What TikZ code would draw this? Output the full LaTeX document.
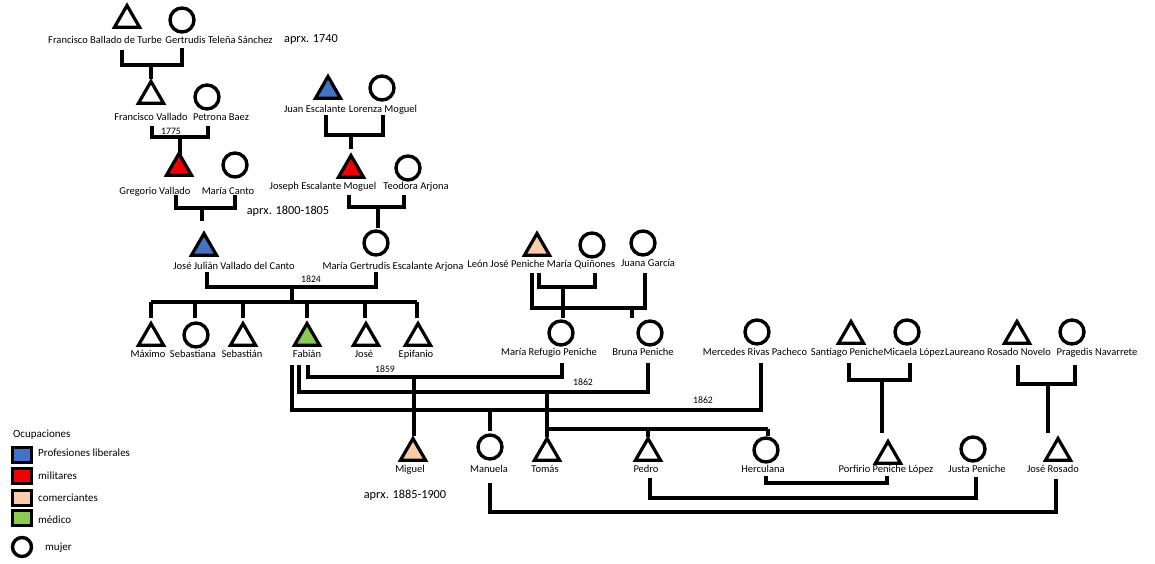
\documentclass[tikz,border=0pt]{standalone}
\usepackage{fontspec}
\setmainfont{Carlito}
\usetikzlibrary{shapes.geometric}
\definecolor{cblue}{HTML}{4472C4}
\definecolor{cred}{HTML}{F00000}
\definecolor{cpeach}{HTML}{F8CBAD}
\definecolor{cgreen}{HTML}{8CCB52}
\tikzset{
  tri/.style={regular polygon, regular polygon sides=3, draw, line width=3.2pt, minimum size=29pt, inner sep=0pt, fill=white},
  fem/.style={circle, draw, line width=3.4pt, minimum size=24pt, inner sep=0pt},
  lbl/.style={font=\fontsize{10.5}{12}\selectfont, inner sep=0pt, text height=7.5pt, text depth=2pt},
  yr/.style={font=\fontsize{9.8}{11}\selectfont, inner sep=0pt, text height=6.5pt, text depth=0pt},
  apx/.style={font=\fontsize{12.3}{14}\selectfont, inner sep=0pt, text height=8.5pt, text depth=2.5pt},
  leg/.style={font=\fontsize{11}{13}\selectfont, inner sep=0pt, anchor=west, text height=8pt, text depth=2pt},
  ln/.style={line width=3.6pt},
  sq/.style={draw, line width=2.4pt, minimum width=19pt, minimum height=15pt, inner sep=0pt}
}
\begin{document}
\begin{tikzpicture}[x=1pt,y=-1pt]
\useasboundingbox (0,0) rectangle (1155,564);
% ---------- generation 1
\node[tri] (fbt) at (127,20) {};
\node[fem] (gts) at (182,20) {};
\node[lbl] (lfbt) at (105,41) {Francisco Ballado de Turbe};
\node[lbl] (lgts) at (219,41) {Gertrudis Teleña Sánchez};
\node[apx] (a1740) at (311,40) {aprx. 1740};
\coordinate (b1l) at (122,50); \coordinate (b1r) at (182,48); \coordinate (b1m) at (151,65); \coordinate (b1d) at (151,79);
\draw[ln] (b1l) |- (b1m) -| (b1r);
\draw[ln] (b1m) -- (b1d);
% ---------- generation 2 (Vallado)
\node[tri] (fv) at (151,96) {};
\node[fem] (pb) at (207,97) {};
\node[lbl] (lfv) at (151,118) {Francisco Vallado};
\node[lbl] (lpb) at (221,118) {Petrona Baez};
\node[yr] (y1775) at (171,131) {1775};
\coordinate (b2l) at (152,126); \coordinate (b2r) at (208,126); \coordinate (b2m) at (180,137); \coordinate (b2d) at (180,155);
\draw[ln] (b2l) |- (b2m) -| (b2r);
\draw[ln] (b2m) -- (b2d);
% ---------- generation 3 (Vallado)
\node[tri, fill=cred] (gv) at (179,168) {};
\node[fem] (mc) at (235,165) {};
\node[lbl] (lgv) at (155,192) {Gregorio Vallado};
\node[lbl] (lmc) at (228,192) {María Canto};
\node[apx] (a1800) at (288,211) {aprx. 1800-1805};
\coordinate (b3l) at (176,195); \coordinate (b3r) at (235,195); \coordinate (b3m) at (202,208); \coordinate (b3d) at (202,221);
\draw[ln] (b3l) |- (b3m) -| (b3r);
\draw[ln] (b3m) -- (b3d);
% ---------- Escalante
\node[tri, fill=cblue] (je) at (328,91) {};
\node[fem] (lm) at (382,88) {};
\node[lbl] (lje) at (315,110) {Juan Escalante};
\node[lbl] (llm) at (383,110) {Lorenza Moguel};
\coordinate (e1l) at (326,115); \coordinate (e1r) at (383,115); \coordinate (e1m) at (351,135); \coordinate (e1d) at (351,149);
\draw[ln] (e1l) |- (e1m) -| (e1r);
\draw[ln] (e1m) -- (e1d);
\node[tri, fill=cred] (jem) at (351,170) {};
\node[fem] (ta) at (408,168) {};
\node[lbl] (ljem) at (323,187) {Joseph Escalante Moguel};
\node[lbl] (lta) at (416,187) {Teodora Arjona};
\coordinate (e2l) at (349,195); \coordinate (e2r) at (404,195); \coordinate (e2m) at (378,207); \coordinate (e2d) at (378,228);
\draw[ln] (e2l) |- (e2m) -| (e2r);
\draw[ln] (e2m) -- (e2d);
% ---------- generation 4
\node[tri, fill=cblue] (jj) at (204,248) {};
\node[fem] (mg) at (376,243) {};
\node[lbl] (ljj) at (234,267) {José Julián Vallado del Canto};
\node[lbl] (lmg) at (393,267) {María Gertrudis Escalante Arjona};
\node[yr] (y1824) at (311,279) {1824};
\coordinate (b4l) at (207,272); \coordinate (b4r) at (376,272); \coordinate (b4m) at (292,287); \coordinate (b4d) at (292,302);
\draw[ln] (b4l) |- (b4m) -| (b4r);
\draw[ln] (b4m) -- (b4d);
\coordinate (sbl) at (151,302); \coordinate (sbr) at (417,302);
\draw[ln] (sbl) -- (sbr);
\foreach \x in {151,195,243,307,365,417} \draw[ln] (\x,302) -- (\x,318);
% ---------- generation 5 children
\node[tri] (max) at (151,338) {};
\node[fem] (sebna) at (196,335) {};
\node[tri] (seb) at (243,338) {};
\node[tri, fill=cgreen] (fab) at (307,338) {};
\node[tri] (jos) at (366,338) {};
\node[tri] (epi) at (418,338) {};
\node[lbl] at (148,355) {Máximo};
\node[lbl] at (193,355) {Sebastiana};
\node[lbl] at (242,355) {Sebastián};
\node[lbl] (lfab) at (307,355) {Fabián};
\node[lbl] at (364,355) {José};
\node[lbl] at (416,355) {Epifanio};
% ---------- Peniche
\node[tri, fill=cpeach] (ljp) at (537,248) {};
\node[fem] (mq) at (592,245) {};
\node[fem] (jg) at (643,243) {};
\node[lbl] (lljp) at (506,265) {León José Peniche};
\node[lbl] (lmq) at (581,265) {María Quiñones};
\node[lbl] (ljg) at (648,264) {Juana García};
\coordinate (p1) at (532,273); \coordinate (p2) at (645,273); \coordinate (p3) at (532,308);
\coordinate (p4) at (539,273); \coordinate (p5) at (595,273); \coordinate (p6) at (539,287);
\draw[ln] (p1) |- (p3) -| (p2);
\draw[ln] (p4) |- (p6) -| (p5);
\draw[ln] (563,287) -- (563,318);
\draw[ln] (632,308) -- (632,318);
\node[fem] (mrp) at (561,333) {};
\node[fem] (bp) at (650,333) {};
\node[lbl] (lmrp) at (549,353) {María Refugio Peniche};
\node[lbl] (lbp) at (643,353) {Bruna Peniche};
\node[fem] (mrv) at (757,332) {};
\node[lbl] (lmrv) at (755,353) {Mercedes Rivas Pacheco};
% ---------- Fabián marriages
\draw[ln] (292,365) |- (761,410) -- (761,363);
\draw[ln] (299,365) |- (648,392) -- (648,363);
\draw[ln] (308,365) |- (562,377) -- (562,363);
\node[yr] (y1859) at (385,369) {1859};
\node[yr] (y1862a) at (583,382) {1862};
\node[yr] (y1862b) at (703,400) {1862};
\draw[ln] (414,377) -- (414,436);
\draw[ln] (490,410) -- (490,431);
\draw[ln] (547,392) -- (547,437);
\draw[ln] (547,429) -- (768,429);
\draw[ln] (648,429) -- (648,437);
\draw[ln] (768,429) -- (768,436);
% ---------- Santiago / Laureano
\node[tri] (sp) at (851,336) {};
\node[fem] (ml) at (907,332) {};
\node[lbl] (lsp) at (847,353) {Santiago Peniche};
\node[lbl] (lml) at (914,353) {Micaela López};
\draw[ln] (849,363) |- (882,380) -| (910,363);
\draw[ln] (882,380) -- (882,433);
\node[tri] (lrn) at (1017,336) {};
\node[fem] (pn) at (1072,332) {};
\node[lbl] (llrn) at (998,353) {Laureano Rosado Novelo};
\node[lbl] (lpn) at (1097,353) {Pragedis Navarrete};
\draw[ln] (1018,365) |- (1048,384) -| (1075,365);
\draw[ln] (1048,384) -- (1048,433);
% ---------- generation 6
\node[tri, fill=cpeach] (mig) at (413,453) {};
\node[fem] (man) at (490,447) {};
\node[tri] (tom) at (547,453) {};
\node[tri] (ped) at (648,453) {};
\node[fem] (her) at (766,450) {};
\node[tri] (ppl) at (888,456) {};
\node[fem] (jp) at (973,449) {};
\node[tri] (jr) at (1058,453) {};
\node[lbl] at (410,470) {Miguel};
\node[lbl] at (489,470) {Manuela};
\node[lbl] at (545,470) {Tomás};
\node[lbl] at (646,470) {Pedro};
\node[lbl] at (763,470) {Herculana};
\node[lbl] at (886,470) {Porfirio Peniche López};
\node[lbl] at (977,470) {Justa Peniche};
\node[lbl] at (1053,470) {José Rosado};
\node[apx] (a1885) at (405,495) {aprx. 1885-1900};
\draw[ln] (766,476) |- (887,483) -- (887,476);
\draw[ln] (650,478) |- (976,498) -- (976,477);
\draw[ln] (490,483) |- (1056,512) -- (1056,479);
% ---------- legend
\node[leg] (loc) at (13,434) {Ocupaciones};
\node[sq, fill=cblue] (s1) at (22,455) {};
\node[sq, fill=cred] (s2) at (22,476) {};
\node[sq, fill=cpeach] (s3) at (22,498) {};
\node[sq, fill=cgreen] (s4) at (22,518) {};
\node[leg] at (38,453) {Profesiones liberales};
\node[leg] at (38,476) {militares};
\node[leg] at (38,498) {comerciantes};
\node[leg] at (38,520) {médico};
\node[fem, minimum size=19pt] (lfem) at (22,547) {};
\node[leg] at (45,547) {mujer};
\end{tikzpicture}
\end{document}
